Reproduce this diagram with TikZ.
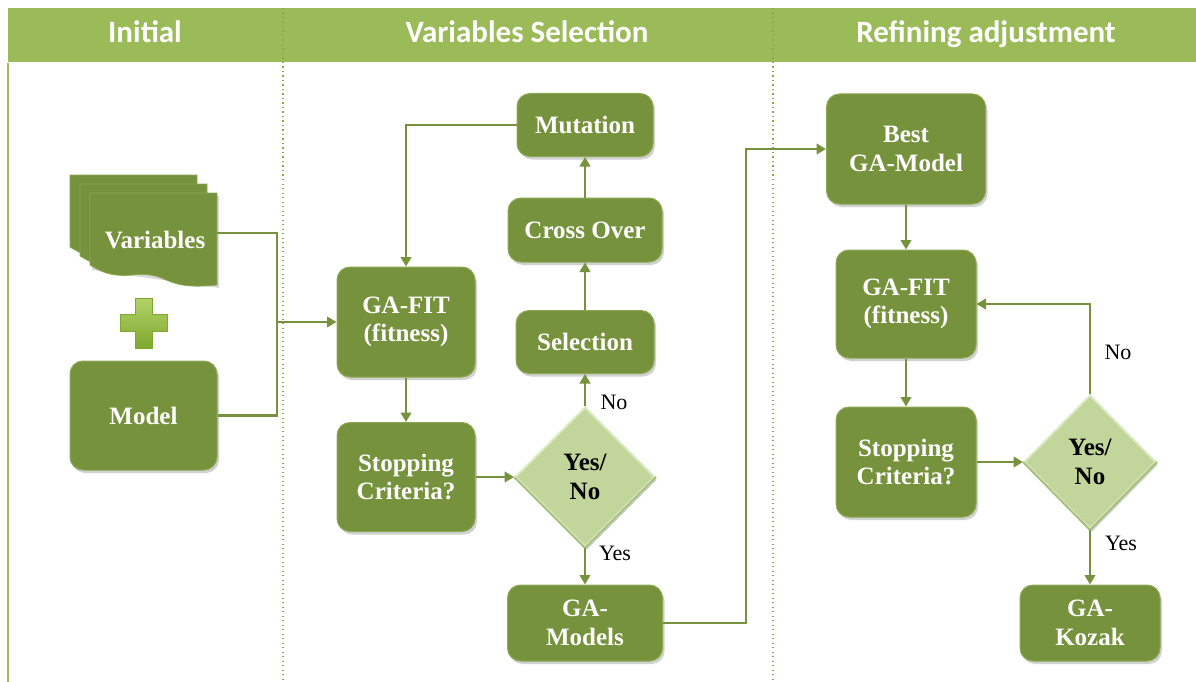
\documentclass[tikz,border=0pt]{standalone}
\usepackage{fontspec}
\setmainfont{Liberation Serif}
\newfontfamily\headfont{Carlito}
\usetikzlibrary{shapes.geometric,arrows.meta,shadows}

\definecolor{olivebox}{HTML}{76923C}
\definecolor{oliveedge}{HTML}{8CA851}
\definecolor{decfill}{HTML}{C2D69B}
\definecolor{decedge}{HTML}{DCE9C4}
\definecolor{decdark}{HTML}{A9C07C}
\definecolor{headbar}{HTML}{9BBB59}
\definecolor{divider}{HTML}{8AAA4A}
\definecolor{plustop}{HTML}{B3D36A}
\definecolor{plusbot}{HTML}{7FA82E}

\tikzset{
  softshadow/.style={drop shadow={shadow xshift=2pt,shadow yshift=-3pt,opacity=0.3,fill=black!60}},
  box/.style={rectangle, rounded corners=13pt, fill=olivebox, draw=oliveedge,
    line width=1pt, text=white, align=center, inner sep=0pt,
    font=\fontsize{25}{28.5}\selectfont\bfseries, softshadow},
  decision/.style={diamond, fill=decfill, draw=decedge, line width=2pt,
    text=black, align=center, inner sep=0pt,
    font=\fontsize{25}{28.5}\selectfont\bfseries, softshadow},
  bevel/.style={draw=decdark, line width=2pt, line join=round},
  flow/.style={draw=olivebox, line width=2.6pt,
    -{Triangle[length=9.5pt,width=10.5pt]}},
  link/.style={draw=olivebox, line width=2.6pt},
  lbl/.style={font=\fontsize{22}{25}\selectfont, text=black, inner sep=0pt},
  headtext/.style={font=\headfont\fontsize{31}{34}\selectfont\bfseries, text=white},
  sep/.style={draw=divider, line width=1.3pt, dash pattern=on 1.3pt off 3.2pt},
  page/.style={fill=olivebox, draw=oliveedge, line width=0.8pt}
}

% one sheet of the stacked-document symbol, top-left corner at (#1,#2)
\newcommand{\docsheet}[2]{%
  \path[page] (#1,#2) -- ++(127,0) -- ++(0,92)
    .. controls +(-57,6) and +(40,-4) .. ++(-85,-10)
    .. controls +(-22,2) and +(10,6) .. (#1,#2+72) -- cycle;}

\begin{document}
\begin{tikzpicture}[x=1pt,y=-1pt]
\useasboundingbox (0,0) rectangle (1196,682);

% header band and frame
\fill[headbar] (8,8) rectangle (1196,63);
\draw[headbar, line width=1.5pt] (8,63) -- (8,682);
\draw[white, line width=1pt] (8,63) -- (1196,63);
\draw[sep] (283,8) -- (283,682);
\draw[sep] (773,8) -- (773,682);
\node[headtext, anchor=base] (hInit) at (145,43) {Initial};
\node[headtext, anchor=base] (hSel) at (527,43) {Variables Selection};
\node[headtext, anchor=base] (hRef) at (986,43) {Refining adjustment};

% stacked documents: Variables
\begin{scope}
  \fill[black!60, opacity=0.25] (92,196) -- ++(127,0) -- ++(0,92) -- ++(-127,-18) -- cycle;
  \docsheet{70}{175}
  \docsheet{80}{184}
  \docsheet{90}{193}
\end{scope}
\node[text=white, font=\fontsize{25}{28.5}\selectfont\bfseries] (vars) at (155,240) {Variables};
\coordinate (varsR) at (217,233);

% plus sign
\shade[top color=plustop, bottom color=plusbot, draw=plusbot, line width=0.8pt]
  (135,298) -- (152,298) -- (152,314) -- (167,314) -- (167,331) -- (152,331)
  -- (152,348) -- (135,348) -- (135,331) -- (120,331) -- (120,314) -- (135,314) -- cycle;

% flowchart nodes
\node[box, minimum width=147pt, minimum height=109pt] (model) at (143.5,415.5) {Model};
\node[box, minimum width=138pt, minimum height=110pt] (gafit1) at (406,322) {GA-FIT\\(fitness)};
\node[box, minimum width=138pt, minimum height=109pt] (stop1) at (406,477) {Stopping\\Criteria?};
\node[decision, minimum width=140pt, minimum height=140pt] (dec1) at (585,477) {Yes/\\No};
\node[box, minimum width=138pt, minimum height=63pt] (sel) at (585,342) {Selection};
\node[box, minimum width=154pt, minimum height=64pt] (cross) at (585,230) {Cross Over};
\node[box, minimum width=136pt, minimum height=63pt] (mut) at (585,125) {Mutation};
\node[box, minimum width=155pt, minimum height=76pt] (models) at (585,623) {GA-\\Models};

\node[box, minimum width=159pt, minimum height=110pt] (best) at (906,149) {Best\\GA-Model};
\node[box, minimum width=140pt, minimum height=108pt] (gafit2) at (906,304) {GA-FIT\\(fitness)};
\node[box, minimum width=140pt, minimum height=110pt] (stop2) at (906,462) {Stopping\\Criteria?};
\node[decision, minimum width=132pt, minimum height=134pt] (dec2) at (1090,462) {Yes/\\No};
\node[box, minimum width=140pt, minimum height=76pt] (kozak) at (1090,623) {GA-\\Kozak};

% darker lower edges of the decision diamonds
\draw[bevel] (dec1.west) -- (dec1.south) -- (dec1.east);
\draw[bevel] (dec2.west) -- (dec2.south) -- (dec2.east);

% connectors
\coordinate (join) at (277,322);
\coordinate (bend) at (746,400);
\draw[link] (varsR) -| (join);
\draw[link] (model.east) -| (join);
\draw[flow] (join) -- (gafit1.west);
\draw[flow] (mut.west) -| (gafit1.north);
\draw[flow] (gafit1) -- (stop1);
\draw[flow] (stop1) -- (dec1);
\draw[flow] (dec1.north) -- (sel.south);
\draw[flow] (sel) -- (cross);
\draw[flow] (cross) -- (mut);
\draw[flow] (dec1.south) -- (models.north);
\draw[flow] (models.east) -- (models.east -| bend) -- (best.west -| bend) -- (best.west);
\draw[flow] (best) -- (gafit2);
\draw[flow] (gafit2) -- (stop2);
\draw[flow] (stop2) -- (dec2);
\draw[flow] (dec2.north) |- (gafit2.east);
\draw[flow] (dec2.south) -- (kozak.north);

% branch labels
\node[lbl] (no1) at (614,402) {No};
\node[lbl] (yes1) at (615,553) {Yes};
\node[lbl] (no2) at (1118,352) {No};
\node[lbl] (yes2) at (1121,543) {Yes};
\end{tikzpicture}
\end{document}
